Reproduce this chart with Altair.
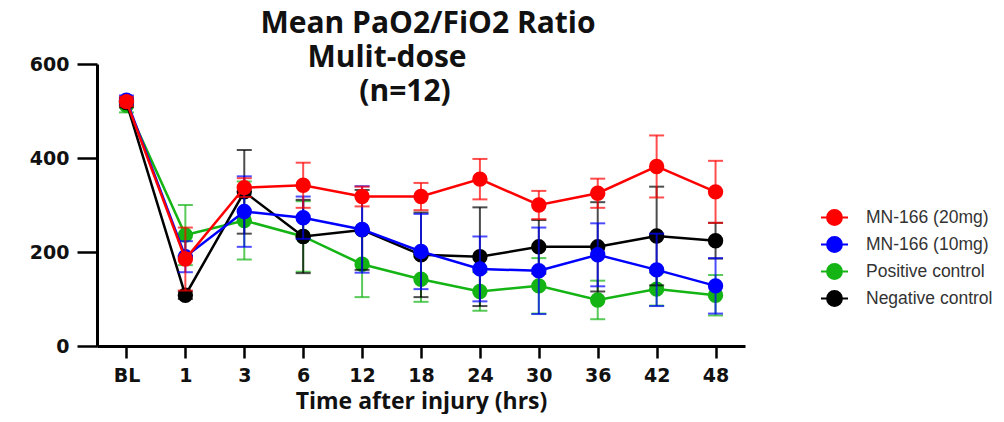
import altair as alt
import pandas as pd

times = ["BL", "1", "3", "6", "12", "18", "24", "30", "36", "42", "48"]
series = ["MN-166 (20mg)", "MN-166  (10mg)", "Positive  control", "Negative control"]
colors = ["#ff0000", "#0000ff", "#14b414", "#000000"]

red_mean = [520, 185, 337, 342, 318, 318, 355, 300, 325, 382, 328]
red_err = [10, 67, 20, 48, 21, 29, 43, 30, 31, 66, 66]
blue_mean = [523, 190, 286, 273, 248, 201, 164, 160, 194, 162, 128]
blue_err = [10, 33, 75, 45, 92, 80, 69, 92, 67, 77, 59]
green_mean = [512, 236, 267, 233, 174, 142, 116, 128, 98, 121, 108]
green_err = [15, 64, 83, 75, 70, 48, 41, 59, 41, 35, 43]
black_mean = [518, 108, 328, 233, 247, 194, 190, 211, 211, 234, 224]
black_err = [10, 8, 89, 78, 85, 90, 105, 57, 95, 105, 38]

title_lines = ["Mean PaO2/FiO2 Ratio", "Mulit-dose", "(n=12)"]
y_ticks = [0, 200, 400, 600]

means = {series[0]: red_mean, series[1]: blue_mean, series[2]: green_mean, series[3]: black_mean}
errs = {series[0]: red_err, series[1]: blue_err, series[2]: green_err, series[3]: black_err}
draw_order = [series[2], series[3], series[1], series[0]]

x_enc = alt.X("time:N", sort=times,
              scale=alt.Scale(type="point", domain=times, padding=0.5),
              axis=alt.Axis(title="Time after injury (hrs)", labelAngle=0, tickSize=12,
                            labelPadding=8, titlePadding=5))
y_scale = alt.Scale(domain=[0, 600], nice=False)
y_axis = alt.Axis(values=y_ticks, tickSize=20, labelPadding=8, title=None)

legend = alt.Legend(
    title=None, orient="none", legendX=723, legendY=139,
    symbolType="M-1,0L1,0M-0.55,0A0.55,0.55,0,1,0,0.55,0A0.55,0.55,0,1,0,-0.55,0Z",
    symbolSize=729, symbolStrokeWidth=2, labelOffset=17, rowPadding=1, padding=0,
    labelFont="Liberation Sans", labelFontSize=17.5, labelColor="#333333", labelLimit=300,
    symbolOpacity=1,
)
color_enc = alt.Color("series:N", scale=alt.Scale(domain=series, range=colors), legend=legend)

layers = []
for s in draw_order:
    m = means[s]
    e = errs[s]
    df = pd.DataFrame({
        "time": times,
        "series": [s] * len(times),
        "mean": m,
        "lo": [a - b for a, b in zip(m, e)],
        "hi": [a + b for a, b in zip(m, e)],
    })
    base = alt.Chart(df).encode(x=x_enc, color=color_enc)
    rule = base.mark_rule(strokeWidth=2, opacity=0.7).encode(
        y=alt.Y("lo:Q", scale=y_scale, axis=y_axis), y2="hi:Q")
    cap_lo = base.mark_tick(thickness=2, size=15, opacity=0.7).encode(
        y=alt.Y("lo:Q", scale=y_scale, axis=y_axis))
    cap_hi = base.mark_tick(thickness=2, size=15, opacity=0.7).encode(
        y=alt.Y("hi:Q", scale=y_scale, axis=y_axis))
    line = base.mark_line(strokeWidth=2.5).encode(
        y=alt.Y("mean:Q", scale=y_scale, axis=y_axis))
    pts = base.mark_point(size=180, opacity=1, filled=True, shape="circle").encode(
        y=alt.Y("mean:Q", scale=y_scale, axis=y_axis),
        stroke=alt.Stroke("series:N", scale=alt.Scale(domain=series, range=colors), legend=legend))
    layers += [rule, cap_lo, cap_hi, line, pts]

title_df = pd.DataFrame({"t": title_lines})
t_pos = [(331, -31), (290, 3), (308, 37)]
for i, (tx, ty) in enumerate(t_pos):
    layers.append(
        alt.Chart(title_df.iloc[[i]]).mark_text(
            font="Open Sans", fontWeight="bold", fontSize=30, color="#111111",
            align="center", baseline="alphabetic"
        ).encode(text="t:N", x=alt.value(tx), y=alt.value(ty))
    )

chart = alt.layer(*layers).properties(
    width=648, height=282,
    autosize=alt.AutoSizeParams(type="none"),
    padding={"left": 89, "top": 56, "right": 251, "bottom": 68},
).configure_view(stroke=None).configure_axis(
    grid=False, domainColor="#000000", domainWidth=3, tickColor="#000000", tickWidth=2.5,
    labelFont="DejaVu Sans", labelFontWeight="bold", labelFontSize=19, labelColor="#111111",
    titleFont="Open Sans", titleFontWeight="bold", titleFontSize=23, titleColor="#111111",
)

chart.save("out.html", embed_options={"renderer": "svg", "actions": False})
